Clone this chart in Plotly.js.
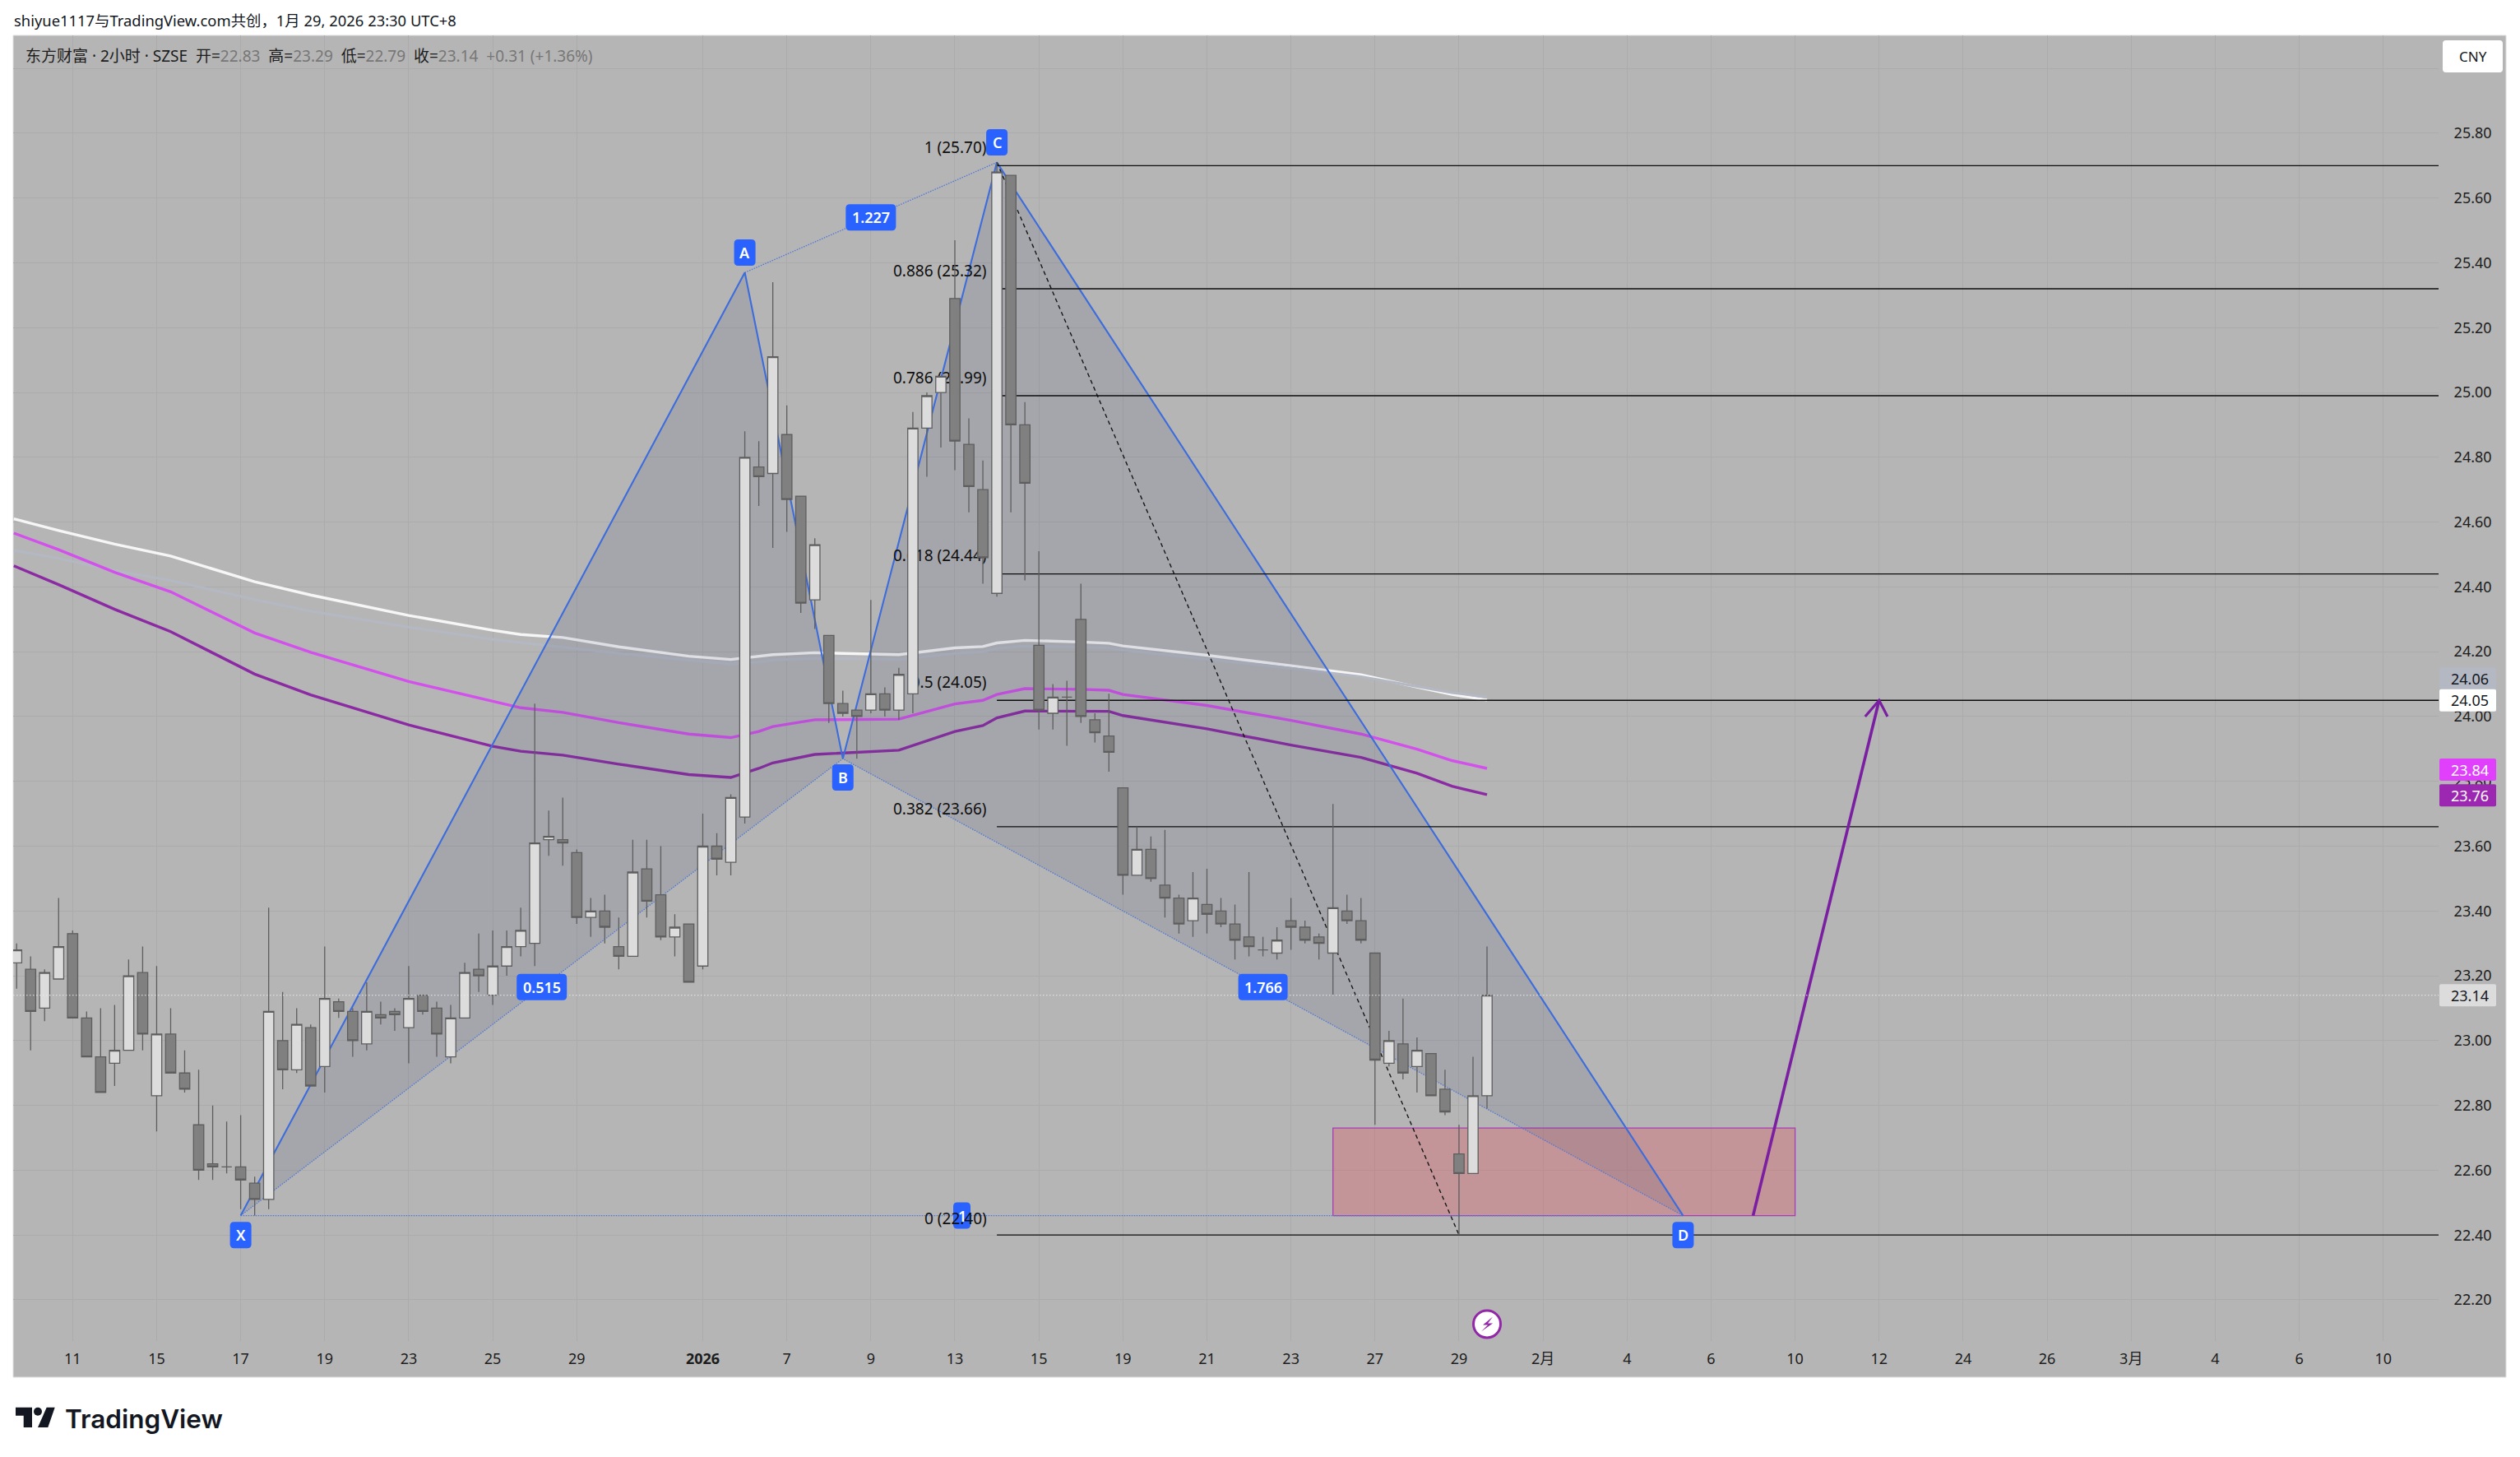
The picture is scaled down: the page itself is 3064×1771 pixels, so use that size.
<!DOCTYPE html>
<html>
<head>
<meta charset="utf-8">
<script src="https://cdn.plot.ly/plotly-3.0.1.min.js"></script>
<style>html,body{margin:0;padding:0;background:#fff}#chart{width:3064px;height:1771px}</style>
</head>
<body>
<div id="chart"></div>
<script>
// ---- candles: first bar has index -4, bars are 1 index unit apart
const firstBar = -4;
const opens = [23.24,23.22,23.10,23.19,23.33,23.07,22.95,22.93,22.97,23.21,22.83,23.02,22.90,22.74,22.62,22.61,22.61,22.56,22.51,23.00,22.91,23.04,22.92,23.12,23.09,22.99,23.08,23.09,23.04,23.14,23.10,22.95,23.07,23.22,23.14,23.23,23.29,23.30,23.62,23.62,23.58,23.38,23.40,23.29,23.26,23.53,23.45,23.32,23.36,23.23,23.60,23.55,23.69,24.77,24.75,24.87,24.68,24.36,24.25,24.04,24.02,24.02,24.07,24.02,24.07,24.89,25.00,25.29,24.84,24.70,24.38,25.67,24.90,24.22,24.01,24.06,24.30,23.99,23.94,23.78,23.51,23.59,23.48,23.44,23.37,23.42,23.40,23.36,23.32,23.28,23.27,23.37,23.35,23.32,23.27,23.40,23.37,23.27,22.93,22.99,22.92,22.96,22.85,22.65,22.59,22.83];
const highs = [23.30,23.26,23.22,23.44,23.34,23.09,23.10,23.11,23.25,23.29,23.23,23.10,22.97,22.91,22.80,22.75,22.77,22.58,23.41,23.15,23.10,23.05,23.29,23.13,23.10,23.18,23.12,23.10,23.23,23.14,23.12,23.11,23.24,23.33,23.34,23.34,23.41,24.04,23.71,23.75,23.59,23.44,23.45,23.38,23.62,23.62,23.60,23.39,23.36,23.70,23.64,23.76,24.88,24.85,25.34,24.96,24.68,24.55,24.25,24.08,24.02,24.36,24.09,24.15,24.94,25.00,25.05,25.47,24.92,24.79,25.71,25.67,24.97,24.51,24.10,24.11,24.41,24.01,24.07,23.78,23.66,23.63,23.65,23.45,23.52,23.53,23.44,23.42,23.52,23.32,23.35,23.44,23.37,23.33,23.73,23.45,23.44,23.27,23.03,23.13,23.01,22.96,22.91,22.74,22.95,23.29];
const lows = [23.16,22.97,23.06,23.19,23.07,22.95,22.84,22.86,22.97,22.97,22.72,22.90,22.84,22.57,22.57,22.59,22.48,22.46,22.48,22.85,22.90,22.86,22.84,23.07,22.95,22.97,23.05,23.03,22.93,23.08,22.95,22.93,23.07,23.15,23.11,23.20,23.26,23.23,23.57,23.54,23.36,23.32,23.30,23.22,23.26,23.38,23.31,23.26,23.18,23.22,23.51,23.51,23.67,24.65,24.52,24.57,24.32,24.27,23.98,24.00,23.87,24.01,24.00,23.99,24.01,24.74,24.83,24.76,24.63,24.41,24.37,24.63,24.42,23.96,23.96,23.91,23.98,23.92,23.83,23.45,23.51,23.49,23.38,23.33,23.32,23.33,23.35,23.25,23.26,23.26,23.25,23.28,23.30,23.25,23.14,23.36,23.30,22.74,22.92,22.88,22.84,22.83,22.77,22.40,22.59,22.79];
const closes = [23.28,23.09,23.21,23.29,23.07,22.95,22.84,22.97,23.20,23.02,23.02,22.90,22.85,22.60,22.61,22.61,22.57,22.51,23.09,22.91,23.05,22.86,23.13,23.09,23.00,23.09,23.07,23.08,23.13,23.09,23.02,23.07,23.21,23.20,23.23,23.29,23.34,23.61,23.63,23.61,23.38,23.40,23.35,23.26,23.52,23.43,23.32,23.35,23.18,23.60,23.56,23.75,24.80,24.74,25.11,24.67,24.35,24.53,24.04,24.01,24.00,24.07,24.02,24.13,24.89,24.99,25.05,24.85,24.71,24.49,25.68,24.90,24.72,24.02,24.06,24.06,24.00,23.95,23.89,23.51,23.59,23.50,23.44,23.36,23.44,23.39,23.36,23.31,23.29,23.28,23.31,23.35,23.31,23.30,23.41,23.37,23.31,22.94,23.00,22.90,22.97,22.83,22.78,22.59,22.83,23.14];

// ---- moving averages, read at these bar indices
const maBars = [-4.2,-1,3,7,13,17,24,30,32,35,39,44,47,49,50,53,59,63,65,66,68,72,74,75,81,87,92,96,98.5,101];
const maWhite = [24.61,24.574,24.532,24.495,24.416,24.375,24.312,24.266,24.253,24.244,24.215,24.186,24.176,24.185,24.191,24.197,24.191,24.212,24.216,24.227,24.235,24.23,24.226,24.218,24.189,24.157,24.129,24.091,24.068,24.051];
const maGrey = [24.513,24.488,24.45,24.42,24.361,24.325,24.276,24.238,24.228,24.214,24.195,24.174,24.162,24.168,24.174,24.18,24.176,24.195,24.2,24.21,24.218,24.214,24.212,24.205,24.178,24.149,24.123,24.094,24.074,24.06];
const maMagenta = [24.566,24.515,24.445,24.385,24.258,24.198,24.108,24.046,24.027,24.013,23.981,23.946,23.935,23.954,23.969,23.99,23.992,24.039,24.05,24.068,24.086,24.084,24.081,24.068,24.034,23.988,23.946,23.899,23.864,23.84];
const maPurple = [24.465,24.407,24.331,24.262,24.131,24.067,23.974,23.908,23.893,23.881,23.853,23.821,23.812,23.84,23.857,23.883,23.896,23.954,23.972,23.996,24.017,24.017,24.016,24.003,23.962,23.912,23.874,23.825,23.785,23.759];

// ---- harmonic pattern pivots
const pivotBars = {X:12, A:48, B:55, C:66, D:115};
const pivotPrices = {X:22.46, A:25.37, B:23.87, C:25.71, D:22.46};

// ---- fibonacci levels
const fibRatios = ['1','0.886','0.786','0.618','0.5','0.382','0'];
const fibPrices = [25.70,25.32,24.99,24.44,24.05,23.66,22.40];
const fibStartBar = 66;

// ---- drawings
const projectionBars = [99];
const projectionPrices = [22.40];
const zoneBars = [90,123];
const zonePrices = [22.46,22.73];
const arrowBars = [120,129];
const arrowPrices = [22.46,24.05];
const arrowHeadBars = [128,129,129.6];
const arrowHeadPrices = [24.0,24.05,24.0];
const lastPrice = 23.14;

// ---- axes
const xTickBars = [0,6,12,18,24,30,36,45,51,57,63,69,75,81,87,93,99,105,111,117,123,129,135,141,147,153,159,165];
const xTickLabels = ['11','15','17','19','23','25','29','<b>2026</b>','7','9','13','15','19','21','23','27','29','2月','4','6','10','12','24','26','3月','4','6','10'];
const yTickValues = [22.2,22.4,22.6,22.8,23.0,23.2,23.4,23.6,23.8,24.0,24.2,24.4,24.6,24.8,25.0,25.2,25.4,25.6,25.8,26.0];
const yTickLabels = ['22.20','22.40','22.60','22.80','23.00','23.20','23.40','23.60','23.80','24.00','24.20','24.40','24.60','24.80','25.00','25.20','25.40','25.60','25.80',''];

// ---- price tags on the axis (at = where the tag sits on the scale, tags never overlap)
const priceTags = [
  {at:24.117, text:'24.06', bg:'#b4b8c3', fg:'#131722'},
  {at:24.05, text:'24.05', bg:'#ffffff', fg:'#131722'},
  {at:23.836, text:'23.84', bg:'#e040fb', fg:'#ffffff'},
  {at:23.757, text:'23.76', bg:'#9c27b0', fg:'#ffffff'},
  {at:23.14, text:'23.14', bg:'#dcdcdc', fg:'#131722'}
];

const W=3064,H=1771,L=16,R=2965,T=43,B=1630;
const px = x => (x-L)/(R-L);
const py = y => 1-(y-T)/(B-T);
const FONT = '"Noto Sans","Noto Sans CJK SC",sans-serif';
const xRange=[-4.246,168.95], yRange=[22.073,26.1019];
const BLUE='#3d6cdc', BLUE2='#4f78d8', BADGE='#2962ff';

function rr(w,h,r){const a=w/2,b=h/2;return `M${-a+r},${-b} H${a-r} Q${a},${-b} ${a},${-b+r} V${b-r} Q${a},${b} ${a-r},${b} H${-a+r} Q${-a},${b} ${-a},${b-r} V${-b+r} Q${-a},${-b} ${-a+r},${-b} Z`;}
const P=pivotBars,Q=pivotPrices;
const line=(x,y,color,width,dash)=>({type:'scatter',mode:'lines',x,y,line:{color,width,dash:dash||'solid'},hoverinfo:'skip',showlegend:false,xaxis:'x',yaxis:'y'});
const fill=(x,y,color)=>({type:'scatter',mode:'lines',x,y,fill:'toself',fillcolor:color,line:{width:0,color:'rgba(0,0,0,0)'},hoverinfo:'skip',showlegend:false,xaxis:'x',yaxis:'y'});

const traces=[
  line(maBars,maWhite,'#f6f6f6',3.4),
  line(maBars,maGrey,'#b4b8c3',3.2),
  line(maBars,maMagenta,'#d350ec',3.4),
  line(maBars,maPurple,'#8c2aa3',3.4),
  {type:'scatter',mode:'lines',x:[zoneBars[0],zoneBars[1],zoneBars[1],zoneBars[0],zoneBars[0]],y:[zonePrices[0],zonePrices[0],zonePrices[1],zonePrices[1],zonePrices[0]],fill:'toself',fillcolor:'rgba(242,54,69,0.25)',line:{color:'#a83cb4',width:1.3},hoverinfo:'skip',showlegend:false},
  fill([P.X,P.A,P.B,P.X],[Q.X,Q.A,Q.B,Q.X],'rgba(60,70,105,0.13)'),
  fill([P.B,P.C,P.D,P.B],[Q.B,Q.C,Q.D,Q.B],'rgba(60,70,105,0.13)'),
  line([P.X,P.B,P.D,P.X],[Q.X,Q.B,Q.D,Q.X],BLUE2,1.3,'1.5px,1.5px'),
  line([P.A,P.C],[Q.A,Q.C],BLUE2,1.3,'1.5px,1.5px'),
  line([P.X,P.A,P.B,P.C,P.D],[Q.X,Q.A,Q.B,Q.C,Q.D],BLUE,2.1),
  line([fibStartBar,projectionBars[0]],[fibPrices[0]+0.01,projectionPrices[0]],'#161616',1.4,'5px,4px')
];
fibPrices.forEach(p=>traces.push(line([fibStartBar,xRange[1]],[p,p],'#0d0d0d',1.3)));
const fibText=fibPrices.map((p,k)=>`${fibRatios[k]} (${p.toFixed(2)})`);
const fibLift=20/393.9, fibLabelBar=fibStartBar-0.74;
// every level label but the last sits under the candles; the last one sits on its badge
traces.push({type:'scatter',mode:'text',x:fibPrices.slice(0,-1).map(()=>fibLabelBar),y:fibPrices.slice(0,-1).map(p=>p+fibLift),
  text:fibText.slice(0,-1),textposition:'middle left',
  textfont:{family:FONT,size:19,color:'#0e0e0e'},hoverinfo:'skip',showlegend:false,xaxis:'x',yaxis:'y'});
traces.push(line(arrowBars,arrowPrices,'#7a1fa2',3.6));
traces.push(line(arrowHeadBars,arrowHeadPrices,'#7a1fa2',3.2));
traces.push({type:'candlestick',x:opens.map((_,k)=>k+firstBar),open:opens,high:highs,low:lows,close:closes,xaxis:'x2',yaxis:'y2',
  increasing:{line:{color:'#5e5e5e',width:1.3},fillcolor:'#dcdcdc'},decreasing:{line:{color:'#5e5e5e',width:1.3},fillcolor:'#808080'},
  whiskerwidth:0,hoverinfo:'skip',showlegend:false});

const shapes=[
  {type:'rect',xref:'paper',yref:'paper',x0:px(16),x1:px(3047),y0:py(1674),y1:py(43),fillcolor:'#b5b5b5',line:{color:'#dedede',width:1},layer:'below'},
  {type:'line',xref:'paper',yref:'y',x0:0,x1:1,y0:lastPrice,y1:lastPrice,line:{color:'#ececec',width:1.1,dash:'1.5px,2.5px'},layer:'above'}
];
const annos=[];
const txt=(x,y,text,size,color,opt={})=>annos.push(Object.assign({xref:'paper',yref:'paper',x:px(x),y:py(y),text,showarrow:false,xanchor:'left',yanchor:'middle',font:{family:FONT,size,color}},opt));

// blue pattern badges
[['X',P.X,22.40,26],['A',P.A,25.432,26],['B',P.B,23.812,26],['C',P.C,25.772,26],['D',P.D,22.40,26],
 ['0.515',33.5,23.165,61],['1.227',57,25.54,61],['1.766',85,23.165,60],['1',63.5,22.46,21]].forEach(b=>{
  shapes.push({type:'path',xref:'x',yref:'y',xsizemode:'pixel',ysizemode:'pixel',xanchor:b[1],yanchor:b[2],path:rr(b[3],32,5),fillcolor:BADGE,line:{width:0},layer:'above'});
  annos.push({xref:'x',yref:'y',x:b[1],y:b[2],text:b[0],showarrow:false,xanchor:'center',yanchor:'middle',font:{family:FONT,size:18,color:'#fff',weight:600}});
});
annos.push({xref:'x',yref:'y',x:fibLabelBar,y:fibPrices[6]+fibLift,text:fibText[6],showarrow:false,xanchor:'right',yanchor:'middle',xshift:3,font:{family:FONT,size:19,color:'#0e0e0e'}});
// axis price tags
priceTags.forEach(t=>{
  shapes.push({type:'path',xref:'paper',yref:'y',xsizemode:'pixel',ysizemode:'pixel',xanchor:px(3000.5),yanchor:t.at,path:rr(69,27,2),fillcolor:t.bg,line:{width:0},layer:'above'});
  annos.push({xref:'paper',yref:'y',x:px(3003),y:t.at,text:t.text,showarrow:false,xanchor:'center',yanchor:'middle',font:{family:FONT,size:18,color:t.fg}});
});
// CNY button
shapes.push({type:'path',xref:'paper',yref:'paper',xsizemode:'pixel',ysizemode:'pixel',xanchor:px(3006.5),yanchor:py(68.5),path:rr(73,39,4),fillcolor:'#ffffff',line:{width:0},layer:'above'});
txt(3006.5,68.5,'CNY',17,'#131722',{xanchor:'center'});
// lightning marker
shapes.push({type:'circle',xref:'x',yref:'paper',xsizemode:'pixel',ysizemode:'pixel',xanchor:101,yanchor:py(1609.4),x0:-16.5,x1:16.5,y0:-16.5,y1:16.5,fillcolor:'#ffffff',line:{color:'#9227a8',width:3},layer:'above'});
shapes.push({type:'path',xref:'x',yref:'paper',xsizemode:'pixel',ysizemode:'pixel',xanchor:101,yanchor:py(1609.4),path:'M7,9 L-5,-1 L1,-1 L-7,-9 L7,1 L1,1 Z',fillcolor:'#9227a8',line:{width:0},layer:'above'});
// TradingView logo
const lg={xref:'paper',yref:'paper',xsizemode:'pixel',ysizemode:'pixel',xanchor:px(19),yanchor:py(1710.7),fillcolor:'#131722',line:{width:0},layer:'above'};
shapes.push(Object.assign({type:'path'},lg,{path:'M0,0 H20 V-24.3 H9.7 V-10 H0 Z'}));
shapes.push(Object.assign({type:'circle'},lg,{x0:22,x1:32,y0:0,y1:-10}));
shapes.push(Object.assign({type:'path'},lg,{path:'M37.7,0 H47.7 L39.3,-24.3 H27 Z'}));
txt(77,1724,'TradingView',31.5,'#131722',{font:{family:'Inter,'+FONT,size:31.5,color:'#131722',weight:600}});

// texts
txt(15,25,'shiyue1117与TradingView.com共创，1月 29, 2026 23:30 UTC+8',18.4,'#131722');
const gv=s=>`<span style="color:#777">${s}</span>`;
const gap='\u00a0\u00a0';
txt(29,68,`东方财富 · 2小时 · SZSE${gap}开=${gv('22.83')}${gap}高=${gv('23.29')}${gap}低=${gv('22.79')}${gap}收=${gv('23.14')}${gap}${gv('+0.31 (+1.36%)')}`,19,'#1c1c1c');

const layout={
  width:W,height:H,paper_bgcolor:'#ffffff',plot_bgcolor:'#b5b5b5',showlegend:false,hovermode:false,dragmode:false,
  margin:{l:L,r:W-R,t:T,b:H-B,pad:0},boxgap:0.27,boxgroupgap:0,
  xaxis:{range:xRange,tickmode:'array',tickvals:xTickBars,ticktext:xTickLabels,showgrid:true,gridcolor:'#ababab',gridwidth:1,zeroline:false,showline:false,ticks:'outside',ticklen:5,tickcolor:'rgba(0,0,0,0)',tickangle:0,tickfont:{family:FONT,size:18,color:'#1c1c1c'},fixedrange:true,rangeslider:{visible:false}},
  yaxis:{range:yRange,side:'right',tickmode:'array',tickvals:yTickValues,ticktext:yTickLabels,showgrid:true,gridcolor:'#ababab',gridwidth:1,zeroline:false,showline:false,ticks:'outside',ticklen:14,tickcolor:'rgba(0,0,0,0)',tickfont:{family:FONT,size:18,color:'#1c1c1c'},fixedrange:true},
  xaxis2:{range:xRange,overlaying:'x',visible:false,rangeslider:{visible:false},fixedrange:true},
  yaxis2:{range:yRange,overlaying:'y',visible:false,side:'right',fixedrange:true},
  shapes,annotations:annos
};
Plotly.newPlot('chart',traces,layout,{displayModeBar:false,staticPlot:true});
</script>
</body>
</html>
